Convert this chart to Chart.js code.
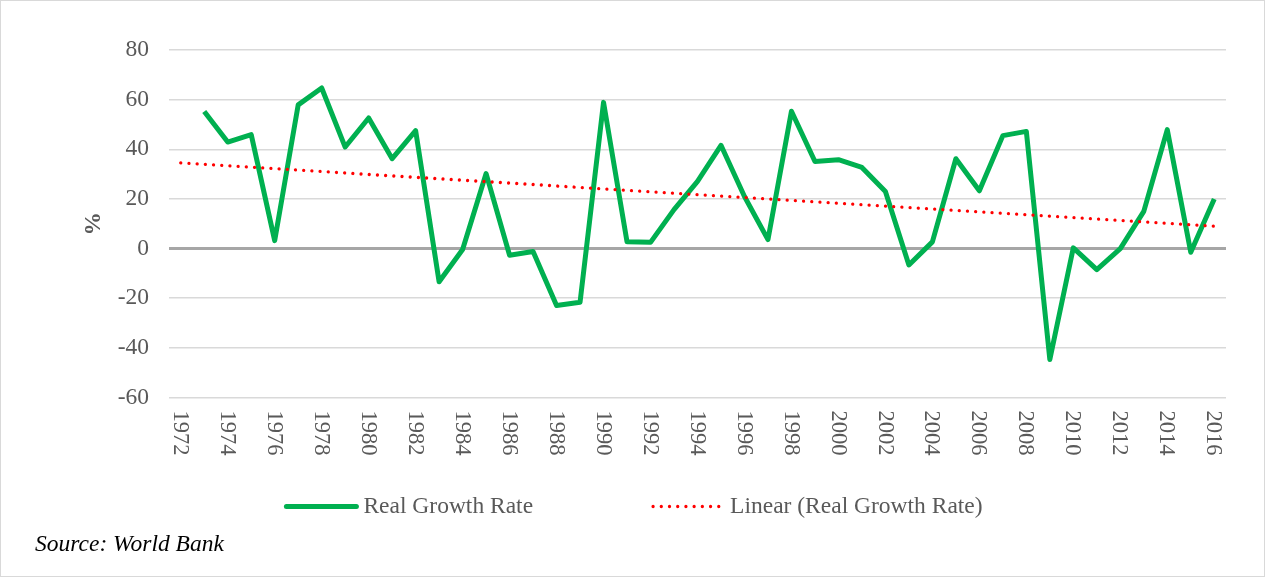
<!DOCTYPE html>
<html>
<head>
<meta charset="utf-8">
<title>Real Growth Rate</title>
<script src="https://cdn.jsdelivr.net/npm/chart.js@4.4.1/dist/chart.umd.min.js"></script>
<style>
  html, body { margin: 0; padding: 0; background: #fff; }
  #wrap { width: 1265px; height: 577px; }
</style>
</head>
<body>
<div id="wrap"><canvas id="growthChart" width="1265" height="577"></canvas></div>
<script>
// Data
const years = ['1972', '1973', '1974', '1975', '1976', '1977', '1978', '1979', '1980', '1981',
    '1982', '1983', '1984', '1985', '1986', '1987', '1988', '1989', '1990', '1991',
    '1992', '1993', '1994', '1995', '1996', '1997', '1998', '1999', '2000', '2001',
    '2002', '2003', '2004', '2005', '2006', '2007', '2008', '2009', '2010', '2011',
    '2012', '2013', '2014', '2015', '2016'];
const realGrowth = [null, 55.2, 42.9, 45.9, 3.2, 57.9, 64.7, 40.9, 52.6, 36.2,
    47.5, -13.4, -0.4, 30.2, -2.7, -1.2, -22.9, -21.6, 58.9, 2.7,
    2.5, 15.7, 27.1, 41.6, 21.0, 3.6, 55.3, 35.1, 35.8, 32.7,
    23.0, -6.6, 2.7, 36.2, 23.3, 45.5, 47.2, -44.7, 0.3, -8.5,
    0.0, 15.0, 47.9, -1.5, 20.0];
// end points of the linear trend line, as drawn in the picture
const trendYears = ['1972', '2016'];
const trendValues = [34.5, 9.0];
// every second year gets a label
const tickYears = years.filter((y, i) => i % 2 === 0);

const FONT = "'Liberation Serif', 'Times New Roman', serif";
const TEXT = '#595959';

// Frame around the whole picture
const framePlugin = {
    id: 'frame',
    beforeDraw(chart) {
        const ctx = chart.ctx;
        ctx.save();
        ctx.fillStyle = '#fff';
        ctx.fillRect(0, 0, chart.width, chart.height);
        ctx.strokeStyle = '#d9d9d9';
        ctx.lineWidth = 1;
        ctx.strokeRect(0.5, 0.5, chart.width - 1, chart.height - 1);
        ctx.restore();
    }
};

// Year labels, turned to read top to bottom
const yearLabelPlugin = {
    id: 'yearLabels',
    afterDraw(chart) {
        const { ctx, scales: { x } } = chart;
        ctx.save();
        ctx.font = '22.5px ' + FONT;
        ctx.fillStyle = TEXT;
        ctx.textAlign = 'left';
        ctx.textBaseline = 'middle';
        tickYears.forEach(yr => {
            const px = x.getPixelForValue(years.indexOf(yr));
            ctx.save();
            ctx.translate(px - 1, x.top + 13);
            ctx.rotate(Math.PI / 2);
            ctx.fillText(yr, 0, 0);
            ctx.restore();
        });
        ctx.restore();
    }
};

// Legend row and source note
const legendPlugin = {
    id: 'bottomLegend',
    afterDraw(chart) {
        const ctx = chart.ctx;
        ctx.save();
        ctx.font = '23.5px ' + FONT;
        const sample = 70, gap = 7, between = 120;
        const items = chart.data.datasets.map(ds => ({ ds, w: ctx.measureText(ds.label).width }));
        const total = items.reduce((a, it) => a + sample + gap + it.w, 0) + between * (items.length - 1);
        let x = (chart.width - total) / 2 + 2;
        const y = 506.5;
        items.forEach(({ ds, w }) => {
            ctx.beginPath();
            ctx.strokeStyle = ds.borderColor;
            ctx.lineWidth = ds.borderWidth;
            ctx.lineCap = 'round';
            ctx.setLineDash(ds.borderDash || []);
            ctx.moveTo(x, y);
            ctx.lineTo(x + sample, y);
            ctx.stroke();
            ctx.setLineDash([]);
            ctx.fillStyle = TEXT;
            ctx.textAlign = 'left';
            ctx.textBaseline = 'alphabetic';
            ctx.fillText(ds.label, x + sample + gap, 513);
            x += sample + gap + w + between;
        });

        ctx.font = 'italic 23.5px ' + FONT;
        ctx.fillStyle = '#000';
        ctx.fillText('Source: World Bank', 35, 551);
        ctx.restore();
    }
};

const ctx = document.getElementById('growthChart').getContext('2d');
const growthChart = new Chart(ctx, {
    type: 'line',
    data: {
        labels: years,
        datasets: [{
            label: 'Real Growth Rate',
            data: realGrowth,
            borderColor: '#00b050',
            backgroundColor: '#00b050',
            borderWidth: 5,
            borderJoinStyle: 'round',
            pointRadius: 0,
            tension: 0,
            order: 1
        }, {
            label: 'Linear (Real Growth Rate)',
            data: trendYears.map((yr, i) => ({ x: yr, y: trendValues[i] })),
            borderColor: '#ff0000',
            backgroundColor: '#ff0000',
            borderWidth: 3.3,
            borderDash: [0.01, 8.2],
            borderCapStyle: 'round',
            pointRadius: 0,
            tension: 0,
            order: 0
        }]
    },
    options: {
        responsive: false,
        animation: false,
        layout: { padding: { top: 50, right: 39, left: 0, bottom: 0 } },
        plugins: {
            legend: { display: false },
            tooltip: { enabled: false }
        },
        scales: {
            x: {
                offset: true,
                grid: { display: false },
                border: { display: false },
                ticks: { display: false },
                afterFit(scale) { scale.height = 577 - 397.5; }
            },
            y: {
                min: -60,
                max: 80,
                ticks: {
                    stepSize: 20,
                    padding: 20,
                    color: TEXT,
                    font: { family: FONT, size: 23.5 }
                },
                grid: {
                    drawTicks: false,
                    color: c => c.tick && c.tick.value === 0 ? '#a6a6a6' : '#d9d9d9',
                    lineWidth: c => c.tick && c.tick.value === 0 ? 3 : 1.5
                },
                border: { display: false },
                title: {
                    display: true,
                    text: '%',
                    color: TEXT,
                    font: { family: FONT, size: 23.5, weight: 'bold' },
                    padding: { top: 80 }
                },
                afterFit(scale) { scale.width = 169; }
            }
        }
    },
    plugins: [framePlugin, yearLabelPlugin, legendPlugin]
});
</script>
</body>
</html>
